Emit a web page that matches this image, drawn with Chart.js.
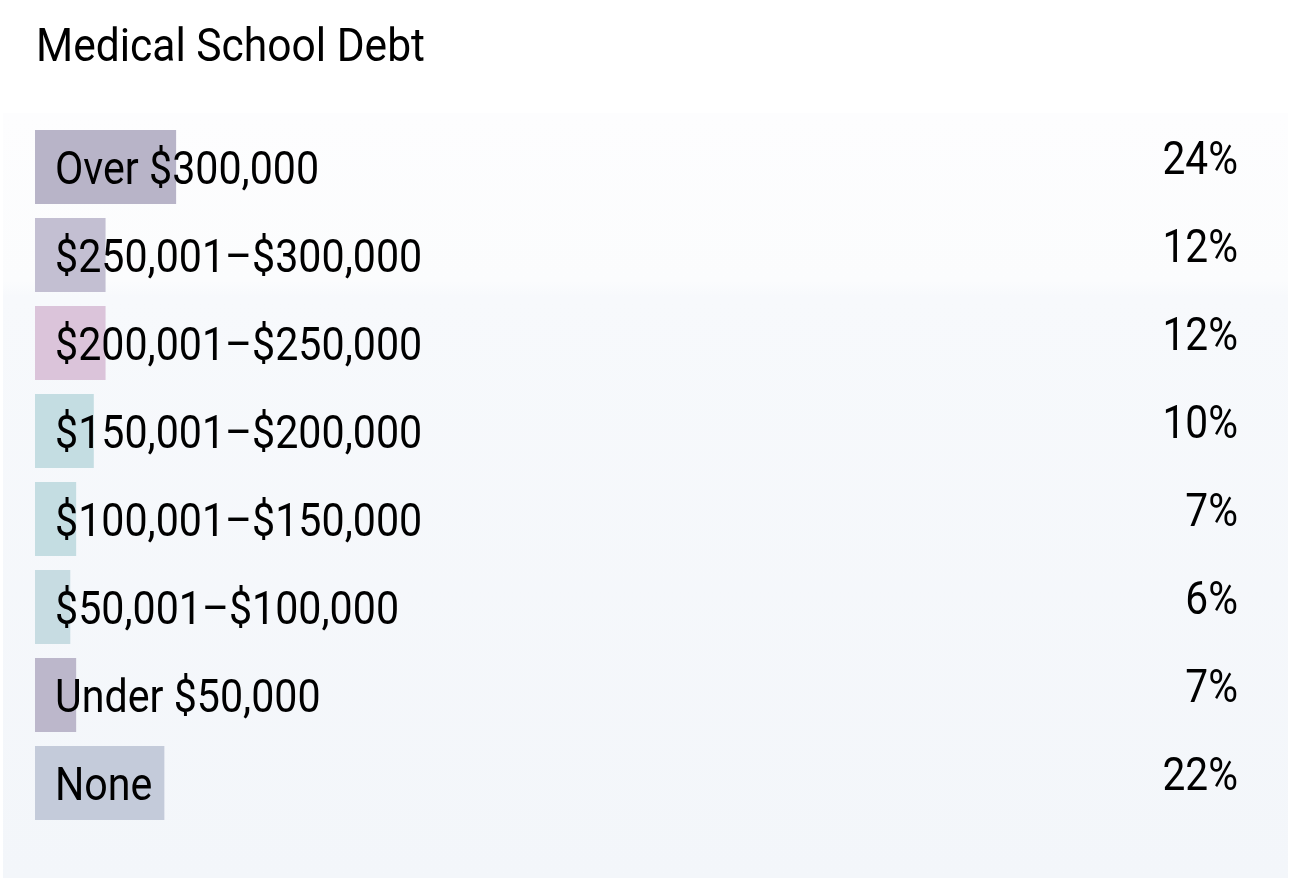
<!DOCTYPE html>
<html>
<head>
<meta charset="utf-8">
<script src="https://cdn.jsdelivr.net/npm/chart.js@4.4.1/dist/chart.umd.min.js"></script>
<style>
  html, body { margin: 0; padding: 0; background: #ffffff; }
  #wrap { width: 1291px; height: 878px; position: relative; }
  canvas { display: block; }
</style>
</head>
<body>
<div id="wrap"><canvas id="c" width="1291" height="878"></canvas></div>
<script>
const chartTitle = "Medical School Debt";
const categories = [
  "Over $300,000",
  "$250,001\u2013$300,000",
  "$200,001\u2013$250,000",
  "$150,001\u2013$200,000",
  "$100,001\u2013$150,000",
  "$50,001\u2013$100,000",
  "Under $50,000",
  "None"
];
const shares = [24, 12, 12, 10, 7, 6, 7, 22];
const valueLabels = ["24%", "12%", "12%", "10%", "7%", "6%", "7%", "22%"];
const barColors = ["#b8b4c8", "#c3bfd2", "#dbc4da", "#c4dde2", "#c4dde2", "#c7dce2", "#bcb7cb", "#c4cbda"];

const FONT = "Roboto, 'Liberation Sans', sans-serif";

function drawCondensed(ctx, text, x, y, size, sx, align) {
  ctx.save();
  ctx.font = size + "px " + FONT;
  ctx.fillStyle = "#000000";
  ctx.textBaseline = "alphabetic";
  const w = ctx.measureText(text).width * sx;
  const left = align === "right" ? x - w : x;
  ctx.translate(left, y);
  ctx.scale(sx, 1);
  ctx.textAlign = "left";
  ctx.fillText(text, 0, 0);
  ctx.restore();
}

const panelPlugin = {
  id: "panel",
  beforeDraw(chart) {
    const ctx = chart.ctx;
    ctx.save();
    ctx.fillStyle = "#ffffff";
    ctx.fillRect(0, 0, chart.width, chart.height);
    const g = ctx.createLinearGradient(0, 113, 0, 878);
    g.addColorStop(0, "#fdfdfe");
    g.addColorStop(0.22, "#fbfcfd");
    g.addColorStop(0.24, "#f7f9fc");
    g.addColorStop(1, "#f3f6fa");
    ctx.fillStyle = g;
    ctx.fillRect(3, 113, 1285, 765);
    ctx.restore();
  }
};

const textPlugin = {
  id: "texts",
  afterDatasetsDraw(chart) {
    const ctx = chart.ctx;
    const yScale = chart.scales.y;
    drawCondensed(ctx, chartTitle, 36, 61, 47, 0.905, "left");
    categories.forEach((c, i) => {
      const yc = yScale.getPixelForValue(i);
      drawCondensed(ctx, c, 55, yc + 17, 47, 0.876, "left");
      drawCondensed(ctx, valueLabels[i], 1238, yc + 7, 47, 0.865, "right");
    });
  }
};

new Chart(document.getElementById("c"), {
  type: "bar",
  data: {
    labels: categories,
    datasets: [{
      data: shares,
      backgroundColor: barColors,
      borderWidth: 0,
      barPercentage: 74 / 88,
      categoryPercentage: 1
    }]
  },
  options: {
    indexAxis: "y",
    responsive: false,
    animation: false,
    events: [],
    layout: { padding: { left: 35, right: 668, top: 123, bottom: 51 } },
    plugins: { legend: { display: false }, tooltip: { enabled: false }, title: { display: false } },
    scales: {
      x: { display: false, min: 0, max: 100 },
      y: { display: false }
    }
  },
  plugins: [panelPlugin, textPlugin]
});
</script>
</body>
</html>
